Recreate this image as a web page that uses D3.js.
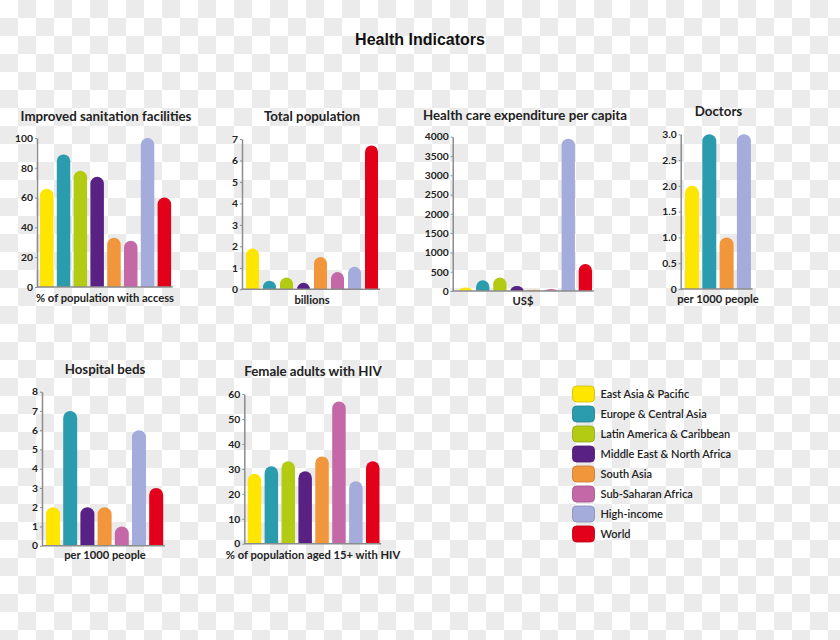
<!DOCTYPE html>
<html>
<head>
<meta charset="utf-8">
<script src="https://cdn.jsdelivr.net/npm/d3@7"></script>
<style>
  html, body { margin: 0; padding: 0; background: #fff; }
  svg { display: block; }
</style>
</head>
<body>
<svg id="chart" width="840" height="640"></svg>
<script>
// ---------- DATA ----------
const regions = ["East Asia & Pacific", "Europe & Central Asia", "Latin America & Caribbean",
  "Middle East & North Africa", "South Asia", "Sub-Saharan Africa", "High-income", "World"];
const regionColors = ["#ffe600", "#2a9cae", "#b4cb14", "#5a2184", "#f2963c", "#c468a8", "#a3acdb", "#e2001a"];

const sanitationValues = [66, 89, 78, 74, 33, 31, 100, 60];
const sanitationTicks = [0, 20, 40, 60, 80, 100];

const populationValues = [1.9, 0.4, 0.55, 0.3, 1.5, 0.8, 1.05, 6.7];
const populationTicks = [0, 1, 2, 3, 4, 5, 6, 7];

const expenditureValues = [90, 280, 350, 130, 30, 50, 3950, 700];
const expenditureTicks = [0, 500, 1000, 1500, 2000, 2500, 3000, 3500, 4000];

const doctorsRegions = ["East Asia & Pacific", "Europe & Central Asia", "South Asia", "High-income"];
const doctorsValues = [2.0, 3.0, 1.0, 3.0];
const doctorsTicks = [0, 0.5, 1.0, 1.5, 2.0, 2.5, 3.0];

const bedsRegions = ["East Asia & Pacific", "Europe & Central Asia", "Middle East & North Africa",
  "South Asia", "Sub-Saharan Africa", "High-income", "World"];
const bedsValues = [2, 7, 2, 2, 1, 6, 3];
const bedsTicks = [0, 1, 2, 3, 4, 5, 6, 7, 8];

const hivValues = [28, 31, 33, 29, 35, 57, 25, 33];
const hivTicks = [0, 10, 20, 30, 40, 50, 60];

// ---------- SETUP ----------
const svg = d3.select("#chart");
const color = d3.scaleOrdinal().domain(regions).range(regionColors);
const FONT = "Lato, 'Open Sans', sans-serif";
const TEXT = "#222";
const AXIS = "#8c8c8c";

// checkerboard background
const defs = svg.append("defs");
const pat = defs.append("pattern").attr("id", "checker")
  .attr("width", 36).attr("height", 36).attr("patternUnits", "userSpaceOnUse");
pat.append("rect").attr("width", 36).attr("height", 36).attr("fill", "#ffffff");
pat.append("rect").attr("x", 18).attr("y", 0).attr("width", 18).attr("height", 18).attr("fill", "#ebebeb");
pat.append("rect").attr("x", 0).attr("y", 18).attr("width", 18).attr("height", 18).attr("fill", "#ebebeb");
svg.append("rect").attr("width", 840).attr("height", 640).attr("fill", "url(#checker)");

// main title
svg.append("text")
  .attr("x", 420).attr("y", 45)
  .attr("text-anchor", "middle")
  .attr("font-family", "'Liberation Sans', Arial, sans-serif")
  .attr("font-weight", "bold").attr("font-size", 16)
  .attr("fill", "#111")
  .text("Health Indicators");

function roundedBar(x0, w, yTop, yBase) {
  const h = yBase - yTop;
  if (h <= 0) return "";
  const rx = w / 2, ry = Math.min(w / 2, h);
  return `M${x0},${yBase} V${yTop + ry} A${rx},${ry} 0 0 1 ${x0 + w},${yTop + ry} V${yBase} Z`;
}

function panel(cfg) {
  const g = svg.append("g");
  const y = d3.scaleLinear().domain([0, cfg.max]).range([cfg.yBot, cfg.yTop]);
  const n = cfg.cats.length;
  const pi = 1 - cfg.barW / cfg.step;
  const r0 = cfg.firstX - (pi / 2) * cfg.step;
  const x = d3.scaleBand().domain(cfg.cats).range([r0, r0 + n * cfg.step])
    .paddingInner(pi).paddingOuter(pi / 2);

  // title
  g.append("text")
    .attr("x", cfg.titleX).attr("y", cfg.titleY)
    .attr("text-anchor", "middle")
    .attr("font-family", FONT).attr("font-weight", "bold").attr("font-size", 13.3)
    .attr("fill", TEXT)
    .text(cfg.title);

  // bars
  g.selectAll("path.bar").data(cfg.values).join("path")
    .attr("class", "bar")
    .attr("fill", (d, i) => color(cfg.cats[i]))
    .attr("d", (d, i) => roundedBar(x(cfg.cats[i]), x.bandwidth(), y(d), y(0)));

  // baseline
  g.append("line")
    .attr("x1", cfg.axisX).attr("x2", r0 + n * cfg.step)
    .attr("y1", y(0)).attr("y2", y(0))
    .attr("stroke", AXIS).attr("stroke-width", 1.5);

  // y axis
  const ax = g.append("g").attr("transform", `translate(${cfg.axisX},0)`)
    .call(d3.axisLeft(y).tickValues(cfg.ticks).tickSize(2).tickSizeOuter(0)
      .tickPadding(2).tickFormat(cfg.fmt || (d => d)));
  ax.select(".domain").attr("stroke", AXIS).attr("stroke-width", 1.5);
  ax.selectAll(".tick line").attr("stroke", AXIS).attr("stroke-width", 1);
  ax.selectAll(".tick text")
    .attr("font-family", FONT).attr("font-weight", "bold").attr("font-size", 10.3)
    .attr("fill", TEXT);

  // axis label
  g.append("text")
    .attr("x", cfg.labelX).attr("y", cfg.labelY)
    .attr("text-anchor", "middle")
    .attr("font-family", FONT).attr("font-weight", "bold").attr("font-size", 11.2)
    .attr("fill", TEXT)
    .text(cfg.label);
}

panel({ title: "Improved sanitation facilities", titleX: 106, titleY: 120.5,
  cats: regions, values: sanitationValues, ticks: sanitationTicks, max: 100,
  axisX: 37, yTop: 138, yBot: 287, firstX: 40, step: 16.8, barW: 13.5,
  label: "% of population with access", labelX: 105, labelY: 302 });

panel({ title: "Total population", titleX: 312, titleY: 120.5,
  cats: regions, values: populationValues, ticks: populationTicks, max: 7,
  axisX: 242, yTop: 139, yBot: 289.3, firstX: 246, step: 17, barW: 13,
  label: "billions", labelX: 312, labelY: 303.5 });

panel({ title: "Health care expenditure per capita", titleX: 525, titleY: 119.5,
  cats: regions, values: expenditureValues, ticks: expenditureTicks, max: 4000,
  axisX: 452.7, yTop: 136.7, yBot: 291, firstX: 459, step: 17.1, barW: 13.3,
  label: "US$", labelX: 523, labelY: 304.5 });

panel({ title: "Doctors", titleX: 718.5, titleY: 116,
  cats: doctorsRegions, values: doctorsValues, ticks: doctorsTicks, max: 3,
  axisX: 680.7, yTop: 134.3, yBot: 289, firstX: 685, step: 17.3, barW: 14,
  fmt: d => d === 0 ? "0" : d3.format(".1f")(d),
  label: "per 1000 people", labelX: 718, labelY: 303 });

panel({ title: "Hospital beds", titleX: 105, titleY: 374,
  cats: bedsRegions, values: bedsValues, ticks: bedsTicks, max: 8,
  axisX: 42, yTop: 391.7, yBot: 545.7, firstX: 46, step: 17.2, barW: 14,
  label: "per 1000 people", labelX: 105, labelY: 559 });

panel({ title: "Female adults with HIV", titleX: 313, titleY: 375.5,
  cats: regions, values: hivValues, ticks: hivTicks, max: 60,
  axisX: 244.3, yTop: 394, yBot: 543.7, firstX: 247.7, step: 16.9, barW: 13.5,
  label: "% of population aged 15+ with HIV", labelX: 313, labelY: 559 });

// legend
const legendY = d3.scaleBand().domain(regions).range([384, 544]);
const lg = svg.append("g");
const items = lg.selectAll("g.item").data(regions).join("g")
  .attr("class", "item")
  .attr("transform", d => `translate(572,${legendY(d)})`);
items.append("rect")
  .attr("x", 0.5).attr("y", 2).attr("width", 22).attr("height", 16).attr("rx", 4)
  .attr("fill", d => color(d))
  .attr("stroke", d => d3.color(color(d)).darker(0.6)).attr("stroke-width", 0.8);
items.append("text")
  .attr("x", 28.5).attr("y", 13.5)
  .attr("font-family", FONT).attr("font-size", 11).attr("font-weight", 600)
  .attr("fill", TEXT)
  .text(d => d);
</script>
</body>
</html>
